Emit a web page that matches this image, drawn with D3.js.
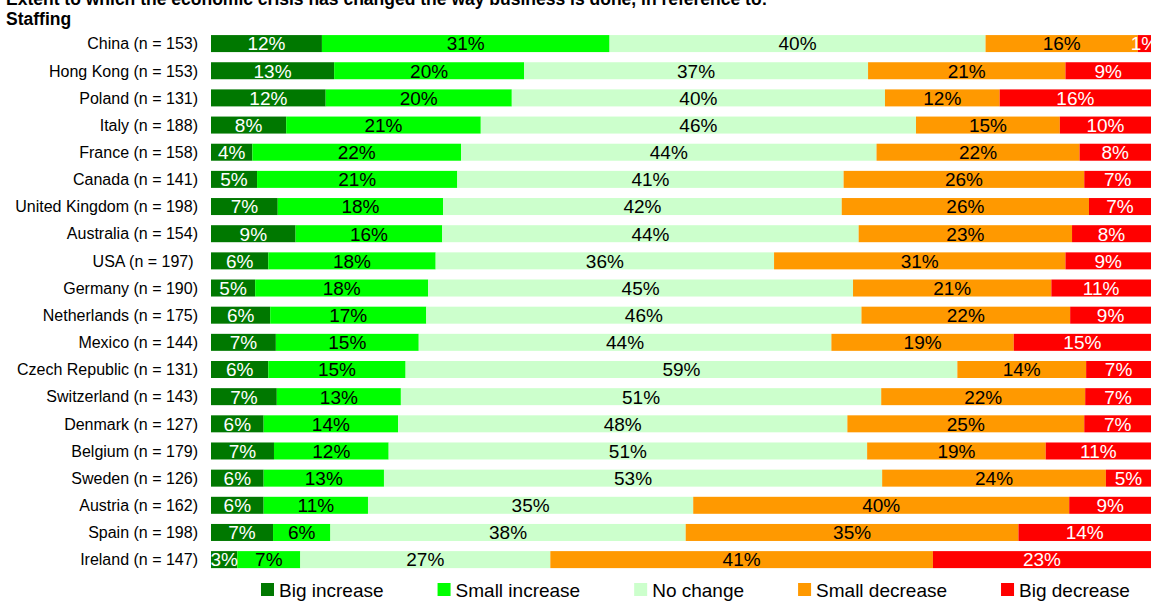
<!DOCTYPE html>
<html>
<head>
<meta charset="utf-8">
<script src="https://cdn.jsdelivr.net/npm/d3@7"></script>
<style>
  html, body { margin: 0; padding: 0; background: #fff; }
  svg { display: block; font-family: "Liberation Sans", Arial, sans-serif; }
</style>
</head>
<body>
<svg id="chart" width="1151" height="601"></svg>
<script>
const titleLine1 = "Extent to which the economic crisis has changed the way business is done, in reference to:";
const titleLine2 = "Staffing";

const categories = [
  "China (n = 153)", "Hong Kong (n = 153)", "Poland (n = 131)", "Italy (n = 188)",
  "France (n = 158)", "Canada (n = 141)", "United Kingdom (n = 198)", "Australia (n = 154)",
  "USA (n = 197) ", "Germany (n = 190)", "Netherlands (n = 175)", "Mexico (n = 144)",
  "Czech Republic (n = 131)", "Switzerland (n = 143)", "Denmark (n = 127)", "Belgium (n = 179)",
  "Sweden (n = 126)", "Austria (n = 162)", "Spain (n = 198)", "Ireland (n = 147)"
];

const seriesNames = ["Big increase", "Small increase", "No change", "Small decrease", "Big decrease"];

const bigIncrease   = [11.8, 13.1, 12.2, 8.0, 4.4, 4.9, 7.1, 9.0, 6.1, 4.7, 6.3, 6.9, 6.1, 7.0, 5.6, 6.7, 5.6, 5.6, 6.6, 2.8];
const smallIncrease = [30.6, 20.2, 19.8, 20.7, 22.2, 21.3, 17.6, 15.6, 17.8, 18.4, 16.6, 15.2, 14.6, 13.2, 14.3, 12.2, 12.8, 11.1, 6.1, 6.7];
const noChange      = [40.0, 36.6, 39.7, 46.3, 44.2, 41.1, 42.4, 44.3, 36.0, 45.2, 46.3, 43.9, 58.7, 51.1, 47.8, 50.9, 53.0, 34.6, 37.8, 26.6];
const smallDecrease = [16.2, 21.0, 12.2, 15.3, 21.6, 25.6, 26.3, 22.7, 31.0, 21.1, 22.2, 19.4, 13.7, 21.7, 25.2, 19.0, 23.8, 40.0, 35.4, 40.7];
const bigDecrease   = [1.4, 9.1, 16.1, 9.7, 7.6, 7.1, 6.6, 8.4, 9.1, 10.6, 8.6, 14.6, 6.9, 7.0, 7.1, 11.2, 4.8, 8.7, 14.1, 23.2];

const seriesColors = ["#007800", "#00FF00", "#CCFFCC", "#FF9900", "#FF0000"];
const labelColors  = ["#FFFFFF", "#000000", "#000000", "#000000", "#FFFFFF"];

const seriesValues = [bigIncrease, smallIncrease, noChange, smallDecrease, bigDecrease];
const rows = categories.map((c, i) => {
  const r = { category: c };
  seriesNames.forEach((s, j) => { r[s] = seriesValues[j][i]; });
  return r;
});

const svg = d3.select("#chart");

const x = d3.scaleLinear().domain([0, 100]).range([211, 1151]);
const y = d3.scaleBand().domain(categories).range([30, 573.2]).paddingInner(0.374).paddingOuter(0.187);
const color = d3.scaleOrdinal().domain(seriesNames).range(seriesColors);
const labelColor = d3.scaleOrdinal().domain(seriesNames).range(labelColors);

const stack = d3.stack().keys(seriesNames);
const stacked = stack(rows);

// Title
svg.append("text").attr("x", 6).attr("y", 4.5)
  .attr("font-size", "17.5px").attr("font-weight", "bold").attr("fill", "#000")
  .text(titleLine1);
svg.append("text").attr("x", 6).attr("y", 24.5)
  .attr("font-size", "17.5px").attr("font-weight", "bold").attr("fill", "#000")
  .text(titleLine2);

// clip for plot area
svg.append("defs").append("clipPath").attr("id", "plotclip")
  .append("rect").attr("x", 211).attr("y", 0).attr("width", 940).attr("height", 601);

// Bars
const layers = svg.append("g").selectAll("g.layer")
  .data(stacked).join("g")
  .attr("class", "layer")
  .attr("fill", d => color(d.key));

layers.selectAll("rect")
  .data(d => d.map(v => ({ key: d.key, v })))
  .join("rect")
  .attr("x", d => x(d.v[0]))
  .attr("y", d => y(d.v.data.category))
  .attr("width", d => x(d.v[1]) - x(d.v[0]))
  .attr("height", y.bandwidth());

// Data labels
const labelG = svg.append("g").attr("clip-path", "url(#plotclip)");
stacked.forEach(layer => {
  labelG.append("g").selectAll("text")
    .data(layer)
    .join("text")
    .attr("x", d => (x(d[0]) + x(d[1])) / 2)
    .attr("y", d => y(d.data.category) + y.bandwidth() / 2)
    .attr("dy", "0.36em")
    .attr("text-anchor", "middle")
    .attr("font-size", "19px")
    .attr("fill", labelColor(layer.key))
    .text(d => Math.round(d[1] - d[0]) + "%");
});

// Category axis
const yAxis = d3.axisLeft(y).tickSize(0).tickPadding(0);
const axisG = svg.append("g").attr("transform", "translate(198,0)").call(yAxis);
axisG.select(".domain").remove();
axisG.selectAll("text")
  .attr("font-size", "16px")
  .attr("font-family", "\"Liberation Sans\", Arial, sans-serif")
  .attr("fill", "#000")
  .attr("dy", "0.36em")
  .style("white-space", "pre");

// Legend
const legend = svg.append("g");
let lx = 261;
seriesNames.forEach(name => {
  const g = legend.append("g").attr("transform", `translate(${lx},0)`);
  g.append("rect").attr("x", 0).attr("y", 583).attr("width", 13).attr("height", 13).attr("fill", color(name));
  const t = g.append("text").attr("x", 18).attr("y", 597).attr("font-size", "19px").attr("fill", "#000").text(name);
  const w = t.node().getComputedTextLength();
  lx += 18 + w + 54;
});
</script>
</body>
</html>
